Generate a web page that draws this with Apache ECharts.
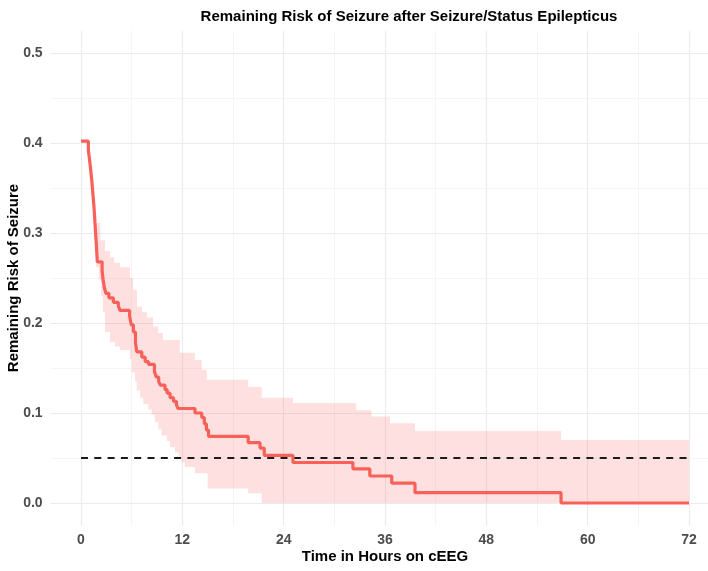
<!DOCTYPE html>
<html>
<head>
<meta charset="utf-8">
<script src="https://cdn.jsdelivr.net/npm/echarts@6/dist/echarts.min.js"></script>
<style>
  html, body { margin: 0; padding: 0; background: #fff; }
  #chart { width: 708px; height: 571px; }
</style>
</head>
<body>
<div id="chart"></div>
<script>
// Kaplan-Meier style curve: [hours, remaining risk], value holds until the next time
const riskCurve = [
    [0, 0.402], [0.87, 0.392], [0.98, 0.384], [1.08, 0.376], [1.18, 0.367],
    [1.28, 0.358], [1.36, 0.349], [1.44, 0.340], [1.52, 0.331], [1.60, 0.320],
    [1.67, 0.309], [1.74, 0.298], [1.81, 0.288], [1.87, 0.278], [1.93, 0.268],
    [2.5, 0.258], [2.62, 0.248], [2.75, 0.240], [2.95, 0.233], [3.3, 0.228],
    [3.83, 0.223], [4.42, 0.219], [4.62, 0.214], [5.75, 0.208], [5.95, 0.198],
    [6.2, 0.190], [6.45, 0.178], [6.6, 0.168], [7.2, 0.162], [7.6, 0.157],
    [8.0, 0.154], [8.7, 0.146], [8.9, 0.140], [9.2, 0.135], [9.4, 0.131],
    [9.95, 0.126], [10.2, 0.122], [10.55, 0.117], [10.95, 0.113], [11.3, 0.109],
    [11.5, 0.105], [13.5, 0.100], [14.3, 0.095], [14.6, 0.088], [14.85, 0.081],
    [15.1, 0.074], [19.8, 0.067], [21.2, 0.061], [21.7, 0.053], [25.1, 0.045],
    [32.2, 0.038], [34.2, 0.030], [36.8, 0.022], [39.55, 0.0115], [56.85, 0.0],
    [72, 0.0]
];

// confidence band, upper and lower step functions
const bandUpper = [
    [1.66, 0.311], [2.3, 0.292], [2.84, 0.280], [3.43, 0.273], [3.9, 0.267],
    [4.62, 0.262], [5.8, 0.250], [6.16, 0.237], [6.63, 0.218], [7.22, 0.212],
    [7.8, 0.206], [8.53, 0.196], [9.12, 0.189], [9.7, 0.181], [11.7, 0.167],
    [13.5, 0.159], [14.3, 0.148], [14.9, 0.137], [19.8, 0.129], [21.4, 0.117],
    [25.1, 0.111], [32.6, 0.103], [34.4, 0.096], [36.6, 0.0885], [39.55, 0.080],
    [56.85, 0.070]
];
const bandLower = [
    [1.66, 0.300], [1.8, 0.262], [2.1, 0.248], [2.4, 0.230], [2.6, 0.212],
    [2.84, 0.190], [3.43, 0.179], [4.03, 0.174], [4.62, 0.170], [5.8, 0.160],
    [6.0, 0.145], [6.4, 0.135], [6.6, 0.125], [7.0, 0.117], [7.38, 0.110],
    [7.97, 0.104], [8.37, 0.098], [8.76, 0.090], [9.15, 0.082], [9.55, 0.075],
    [10.15, 0.069], [10.54, 0.062], [11.13, 0.056], [11.53, 0.051], [11.9, 0.045],
    [12.3, 0.040], [13.5, 0.033], [15.0, 0.016], [19.8, 0.0107], [21.4, 0.0]
];
const bandEnd = 72;

const thresholdLine = [[0, 0.05], [72, 0.05]];

// axis breaks
const xTicks = [0, 12, 24, 36, 48, 60, 72];
const xMinor = [6, 18, 30, 42, 54, 66];
const yTicks = [0, 0.1, 0.2, 0.3, 0.4, 0.5];
const yMinor = [0.05, 0.15, 0.25, 0.35, 0.45];

const chart = echarts.init(document.getElementById('chart'), null, { renderer: 'canvas' });

const gridLines = [
    ...xTicks.map(v => ({ xAxis: v, lineStyle: { color: '#EBEBEB', width: 1.1 } })),
    ...xMinor.map(v => ({ xAxis: v, lineStyle: { color: '#F2F2F2', width: 0.8 } })),
    ...yTicks.map(v => ({ yAxis: v, lineStyle: { color: '#EBEBEB', width: 1.1 } })),
    ...yMinor.map(v => ({ yAxis: v, lineStyle: { color: '#F2F2F2', width: 0.8 } }))
];

const renderBand = (params, api) => {
    const pts = [];
    bandUpper.forEach((d, i) => {
        const next = i + 1 < bandUpper.length ? bandUpper[i + 1][0] : bandEnd;
        pts.push(api.coord([d[0], d[1]]));
        pts.push(api.coord([next, d[1]]));
    });
    for (let i = bandLower.length - 1; i >= 0; i--) {
        const next = i + 1 < bandLower.length ? bandLower[i + 1][0] : bandEnd;
        pts.push(api.coord([next, bandLower[i][1]]));
        pts.push(api.coord([bandLower[i][0], bandLower[i][1]]));
    }
    return {
        type: 'polygon',
        shape: { points: pts },
        style: { fill: 'rgba(248,100,100,0.2)' }
    };
};

const fontFamily = 'Liberation Sans, Arial, sans-serif';
const labelFont = { color: '#4D4D4D', fontWeight: 'bold', fontSize: 14, fontFamily };

chart.setOption({
    backgroundColor: '#fff',
    animation: false,
    title: {
        text: 'Remaining Risk of Seizure after Seizure/Status Epilepticus',
        left: 404,
        top: 4,
        textAlign: 'center',
        textStyle: { color: '#000', fontWeight: 'bold', fontSize: 15, fontFamily }
    },
    grid: { left: 50.6, right: -11.4, top: 30.5, bottom: 45.5, containLabel: false, outerBoundsMode: 'none' },
    xAxis: {
        type: 'value',
        min: -3.6,
        max: 75.6,
        name: 'Time in Hours on cEEG',
        nameLocation: 'middle',
        nameGap: 24,
        nameMoveOverlap: false,
        nameTextStyle: { color: '#000', fontWeight: 'bold', fontSize: 15, fontFamily },
        axisLine: { show: false },
        axisTick: { show: true, customValues: xTicks, length: 4, lineStyle: { color: '#333', width: 1 } },
        axisLabel: { customValues: xTicks, margin: 8, ...labelFont },
        splitLine: { show: false }
    },
    yAxis: {
        type: 'value',
        min: -0.025,
        max: 0.525,
        name: 'Remaining Risk of Seizure',
        nameLocation: 'middle',
        nameGap: 29,
        nameMoveOverlap: false,
        nameTextStyle: { color: '#000', fontWeight: 'bold', fontSize: 15, fontFamily },
        axisLine: { show: false },
        axisTick: { show: true, customValues: yTicks, length: 4, lineStyle: { color: '#333', width: 1 } },
        axisLabel: { customValues: yTicks, margin: 8, formatter: v => v.toFixed(1), ...labelFont },
        splitLine: { show: false }
    },
    series: [
        {
            name: 'grid',
            type: 'line',
            data: [],
            z: 1,
            silent: true,
            markLine: {
                z: 1,
                silent: true,
                symbol: ['none', 'none'],
                label: { show: false },
                emphasis: { disabled: true },
                lineStyle: { type: 'solid' },
                data: gridLines
            }
        },
        {
            name: 'band',
            type: 'custom',
            z: 2,
            silent: true,
            data: [[0, 0]],
            renderItem: renderBand
        },
        {
            name: 'threshold',
            type: 'line',
            z: 3,
            data: thresholdLine,
            symbol: 'none',
            silent: true,
            lineStyle: { color: '#1a1a1a', width: 2, type: [7, 6.3] }
        },
        {
            name: 'risk',
            type: 'line',
            z: 4,
            step: 'end',
            data: riskCurve,
            symbol: 'none',
            silent: true,
            lineStyle: { color: '#F8605A', width: 3.2 }
        }
    ]
});
</script>
</body>
</html>
